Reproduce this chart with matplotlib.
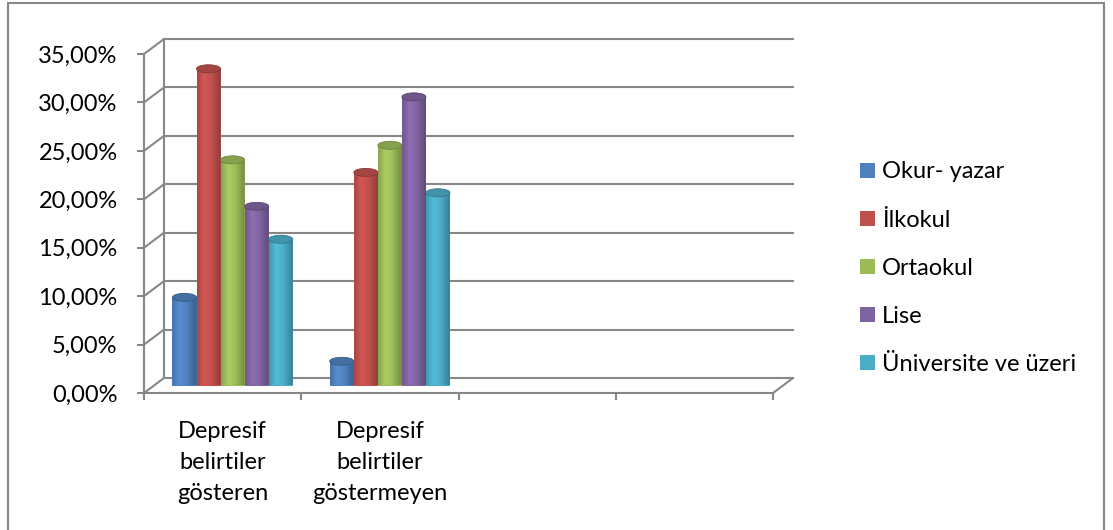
import numpy as np
import matplotlib
matplotlib.use("Agg")
import matplotlib.pyplot as plt
from matplotlib.patches import Patch, PathPatch, Ellipse, Rectangle, ConnectionPatch
from matplotlib.path import Path

plt.rcParams['font.family'] = ['Lato', 'DejaVu Sans']

categories = ["Depresif\nbelirtiler\ngösteren", "Depresif\nbelirtiler\ngöstermeyen", "", ""]
series = ["Okur- yazar", "İlkokul", "Ortaokul", "Lise", "Üniversite ve üzeri"]
okur_yazar = [9.1, 2.5]
ilkokul = [32.7, 22.0]
ortaokul = [23.3, 24.8]
lise = [18.5, 29.8]
universite = [15.1, 19.9]
values = [okur_yazar, ilkokul, ortaokul, lise, universite]
colors = ["#4F81BD", "#C0504D", "#9BBB59", "#8064A2", "#4BACC6"]
yticks = [0, 5, 10, 15, 20, 25, 30, 35]

W, H = 1113, 530
GRAY = "#878787"
TXT = 17


def box(x0, y0, x1, y1):
    # pixel box (top-left origin) -> figure fraction rect
    return [x0 / W, 1 - y1 / H, (x1 - x0) / W, (y1 - y0) / H]


fig = plt.figure(figsize=(W / 100, H / 100), dpi=100)
fig.patch.set_facecolor("white")
fig.add_artist(Rectangle((8 / W, -0.05), 1096 / W, 1 - 3 / H + 0.05, transform=fig.transFigure,
                         fill=False, edgecolor=GRAY, lw=1.5))

# three planes of the 3d box: back wall, middle (bars), front (axis)
back = fig.add_axes(box(164, 39, 793, 378), zorder=0)
front = fig.add_axes(box(144, 54, 773, 393), zorder=1)
mid = fig.add_axes(box(154, 46.5, 783, 385.5), zorder=2)
for a in (back, front, mid):
    a.set_xlim(0, 4)
    a.set_ylim(0, 35)
    a.patch.set_visible(False)

# back wall
back.axis("off")
for y in yticks:
    back.axhline(y, color=GRAY, lw=1.5, clip_on=False)
back.axvline(0, color=GRAY, lw=1.5, clip_on=False)

# side wall / floor diagonals
for y in yticks:
    fig.add_artist(ConnectionPatch((0, y), (0, y), front.transData, back.transData,
                                   color=GRAY, lw=1.5))
fig.add_artist(ConnectionPatch((4, 0), (4, 0), front.transData, back.transData,
                               color=GRAY, lw=1.5))

# front axis
for s in ("top", "right"):
    front.spines[s].set_visible(False)
for s in ("left", "bottom"):
    front.spines[s].set_color(GRAY)
    front.spines[s].set_linewidth(1.5)
front.set_yticks(yticks)
front.set_yticklabels([f"{v:.2f}%".replace(".", ",") for v in yticks], fontsize=TXT)
front.set_xticks([0, 1, 2, 3, 4])
front.set_xticklabels([])
front.set_xticks([0.5, 1.5, 2.5, 3.5], categories, minor=True)
front.tick_params(axis="both", which="major", direction="out", length=5, width=1.5, color=GRAY)
front.tick_params(axis="x", which="minor", length=0, pad=20, labelsize=TXT)
front.tick_params(axis="y", pad=14)
for lbl in front.get_xticklabels(minor=True):
    lbl.set_linespacing(1.6)

# cylinders
mid.axis("off")
bw = 0.153
e = 4.0 * 35 / 339.0  # half-height of the end ellipses
t = np.linspace(0, 1, 64)
shade = np.interp(t, [0, 0.3, 0.6, 1], [0.88, 1.1, 1.0, 0.72])
theta = np.linspace(np.pi, 2 * np.pi, 40)
for j, (vals, c) in enumerate(zip(values, colors)):
    xs = np.arange(len(vals)) + 0.5 + (j - 2) * bw
    base = np.array(matplotlib.colors.to_rgb(c))
    grad = np.clip(base[None, :] * shade[:, None], 0, 1)[None, :, :]
    bars = mid.bar(xs, vals, width=bw, color=c, linewidth=0)
    for xc, v in zip(xs, vals):
        x0, x1 = xc - bw / 2, xc + bw / 2
        arc = np.column_stack([xc + bw / 2 * np.cos(theta), e * np.sin(theta)])
        verts = np.vstack([[x0, v], [x0, 0], arc, [x1, v], [x0, v]])
        codes = [Path.MOVETO] + [Path.LINETO] * (len(verts) - 2) + [Path.CLOSEPOLY]
        clip = PathPatch(Path(verts, codes), transform=mid.transData, facecolor="none",
                         edgecolor="none")
        mid.add_patch(clip)
        im = mid.imshow(grad, extent=(x0, x1, -e, v), aspect="auto", interpolation="bilinear",
                        zorder=2)
        im.set_clip_path(clip)
        mid.add_patch(Ellipse((xc, v), bw, 2 * e, facecolor=np.clip(base * 0.86, 0, 1),
                              edgecolor=np.clip(base * 0.7, 0, 1), lw=0.6, zorder=3))
mid.set_xlim(0, 4)
mid.set_ylim(0, 35)

handles = [Patch(facecolor=c, edgecolor="none") for c in colors]
fig.legend(handles, series, loc="upper left", bbox_to_anchor=(851 / W, 1 - 152 / H),
           frameon=False, fontsize=TXT, handlelength=0.6, handleheight=0.6,
           handletextpad=0.3, labelspacing=1.15, borderaxespad=0)

fig.savefig("out.png", dpi=100)
